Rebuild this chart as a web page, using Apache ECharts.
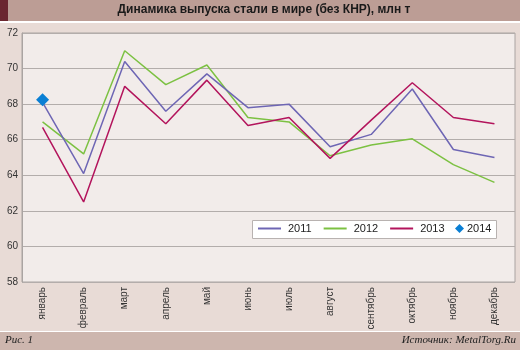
<!DOCTYPE html>
<html><head><meta charset="utf-8">
<script src="https://cdn.jsdelivr.net/npm/echarts@6/dist/echarts.min.js"></script>
<style>html,body{margin:0;padding:0;background:#fff}#c{width:520px;height:350px}</style>
</head><body><div id="c"></div>
<script>
var months = ['январь','февраль','март','апрель','май','июнь','июль','август','сентябрь','октябрь','ноябрь','декабрь'];
var yTicks = [58,60,62,64,66,68,70,72];
var s2011 = [68.1,64.1,70.4,67.6,69.7,67.8,68.0,65.6,66.3,68.85,65.45,65.0];
var s2012 = [67.0,65.2,71.0,69.1,70.2,67.25,67.0,65.1,65.7,66.05,64.6,63.6];
var s2013 = [66.7,62.5,69.0,66.9,69.35,66.8,67.25,64.95,67.1,69.2,67.25,66.9];
var s2014 = [68.25];
var seriesNames = ['2011','2012','2013','2014'];
var titleText = 'Динамика выпуска стали в мире (без КНР), млн т';

var chart = echarts.init(document.getElementById('c'), null, {renderer:'canvas'});
var serifItalic = {fontFamily:'Liberation Serif', fontStyle:'italic', fontSize:11, fill:'#222'};
var lineIcon = 'path://M0,0H23V2H0Z';
var legendText = {fontFamily:'Liberation Sans', fontSize:11, color:'#222', padding:[0,0,0,2]};
chart.setOption({
  animation:false,
  backgroundColor:'#ffffff',
  graphic:[
    {type:'rect', shape:{x:0,y:0,width:520,height:21}, style:{fill:'#bc9d95'}, z:-10},
    {type:'rect', shape:{x:0,y:0,width:8,height:21}, style:{fill:'#6b2630'}, z:-9},
    {type:'rect', shape:{x:0,y:23,width:520,height:308}, style:{fill:'#e8dbd6'}, z:-10},
    {type:'rect', shape:{x:0,y:332,width:520,height:18}, style:{fill:'#cdb6ae'}, z:-10},
    {type:'text', x:264, y:4, style:{text:titleText, textAlign:'center', fontFamily:'Liberation Sans', fontWeight:'bold', fontSize:12, fill:'#1a1a1a'}},
    {type:'text', left:5, top:335, style:Object.assign({text:'Рис. 1'}, serifItalic)},
    {type:'text', right:4, top:335, style:Object.assign({text:'Источник: MetalTorg.Ru'}, serifItalic)},
    {type:'rect', shape:{x:252.5,y:220.5,width:244,height:18}, style:{fill:'#ffffff', stroke:'#b8b2b0', lineWidth:1}, z:50}
  ],
  legend:[{
    left:258, top:223, padding:0,
    itemGap:12, itemWidth:23, itemHeight:12, symbolKeepAspect:true,
    textStyle:legendText, z:60,
    data:[
      {name:seriesNames[0], icon:lineIcon},
      {name:seriesNames[1], icon:lineIcon},
      {name:seriesNames[2], icon:lineIcon}
    ]
  },{
    left:455, top:223, padding:0,
    itemWidth:9, itemHeight:9, itemGap:5,
    textStyle:{fontFamily:'Liberation Sans', fontSize:11, color:'#222', padding:[0,0,0,-2]}, z:60,
    data:[{name:seriesNames[3], icon:'diamond'}]
  }],
  grid:{left:22, right:5, top:33, bottom:68, show:true, backgroundColor:'#f2ecea', borderColor:'#aaa4a2', borderWidth:1},
  xAxis:{
    type:'category', data:months, boundaryGap:true,
    axisLine:{show:false}, axisTick:{show:false},
    axisLabel:{rotate:90, fontFamily:'Liberation Sans', fontSize:10, color:'#333', margin:5, interval:0}
  },
  yAxis:{
    type:'value', min:58, max:72, interval:2,
    axisLine:{show:true, lineStyle:{color:'#aaa4a2'}}, axisTick:{show:false},
    splitLine:{lineStyle:{color:'#b3adab', width:1}},
    axisLabel:{fontFamily:'Liberation Sans', fontSize:10, color:'#333', margin:4,
      formatter:function(v){return yTicks.indexOf(v)>=0?String(v):'';}}
  },
  series:[
    {name:seriesNames[0], type:'line', data:s2011, symbol:'none', lineStyle:{color:'#6e66b4', width:1.5}, itemStyle:{color:'#6e66b4'}, z:3},
    {name:seriesNames[1], type:'line', data:s2012, symbol:'none', lineStyle:{color:'#7cc142', width:1.5}, itemStyle:{color:'#7cc142'}, z:2},
    {name:seriesNames[2], type:'line', data:s2013, symbol:'none', lineStyle:{color:'#b3145c', width:1.5}, itemStyle:{color:'#b3145c'}, z:4},
    {name:seriesNames[3], type:'line', data:s2014, symbol:'diamond', symbolSize:13, showSymbol:true, lineStyle:{color:'#0a7fd4', width:0}, itemStyle:{color:'#0a7fd4'}, z:5}
  ]
});
</script></body></html>
